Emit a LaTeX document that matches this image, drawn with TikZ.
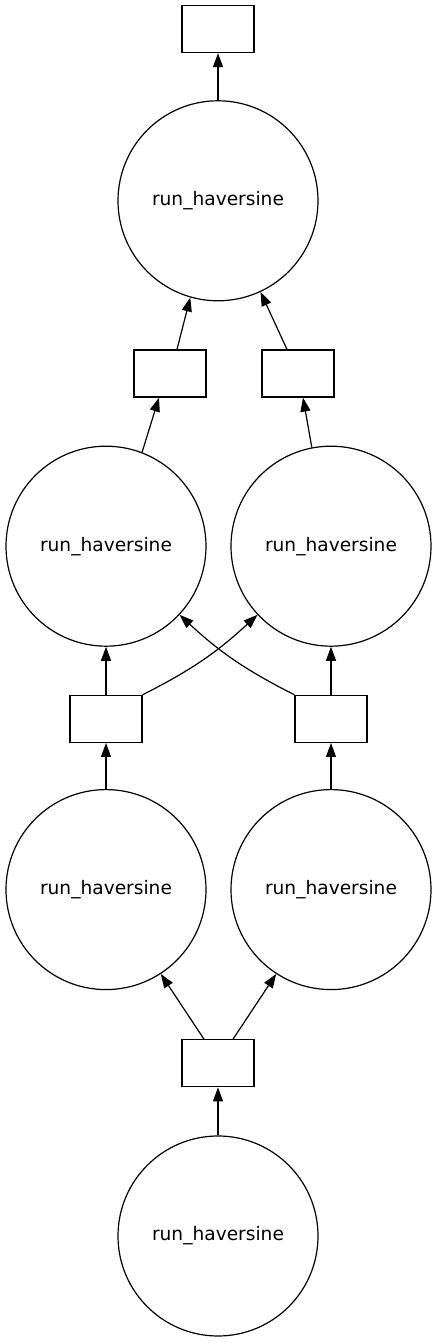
\documentclass[tikz,border=0pt]{standalone}
\usepackage{fontspec}
\setmainfont{DejaVu Sans}
\usetikzlibrary{arrows.meta, positioning}
\tikzset{
  tache/.style={circle, draw=black, line width=1.2pt, minimum size=200pt,
    inner sep=0pt, font=\fontsize{18.6}{22}\selectfont},
  donnee/.style={rectangle, draw=black, line width=1.2pt, minimum width=72pt,
    minimum height=47pt, inner sep=0pt},
  fleche/.style={-{Triangle[length=14pt, width=10pt]}, line width=1.2pt}
}

\begin{document}
\begin{tikzpicture}[node distance=48pt]
    \useasboundingbox (0,0) rectangle (437pt,1343pt);
    \node[tache] (h0) at (218pt,107pt) {run\_haversine};
    \node[donnee, above=of h0] (d0) {};
    \node[tache, above=49pt of d0, xshift=-112pt] (h1g) {run\_haversine};
    \node[tache, above=49pt of d0, xshift=113pt] (h1d) {run\_haversine};
    \node[donnee, above=46pt of h1g] (d1g) {};
    \node[donnee, above=46pt of h1d] (d1d) {};
    \node[tache, above=of d1g] (h2g) {run\_haversine};
    \node[tache, above=of d1d] (h2d) {run\_haversine};
    \node[donnee, above=of h2g, xshift=64pt] (d2g) {};
    \node[donnee, above=of h2d, xshift=-33pt] (d2d) {};
    \node[tache, above=of d2g, xshift=48pt] (h3) {run\_haversine};
    \node[donnee, above=47pt of h3] (d3) {};

    \draw[fleche] (h0) -- (d0);
    \draw[fleche] ([xshift=-14pt]d0.north) -- (h1g.-57);
    \draw[fleche] ([xshift=15pt]d0.north) -- (h1d.-123);
    \draw[fleche] (h1g) -- (d1g);
    \draw[fleche] (h1d) -- (d1d);
    \draw[fleche] (d1g) -- (h2g);
    \draw[fleche] (d1d) -- (h2d);
    \draw[fleche] (d1g.north east) to[bend right=8] (h2d.-137);
    \draw[fleche] (d1d.north west) to[bend left=8] (h2g.-43);
    \draw[fleche] (h2g.69) -- ([xshift=-11pt]d2g.south);
    \draw[fleche] (h2d.101) -- ([xshift=5pt]d2d.south);
    \draw[fleche] ([xshift=7pt]d2g.north) -- (h3.-106);
    \draw[fleche] ([xshift=-11pt]d2d.north) -- (h3.-65);
    \draw[fleche] (h3) -- (d3);
\end{tikzpicture}
\end{document}
